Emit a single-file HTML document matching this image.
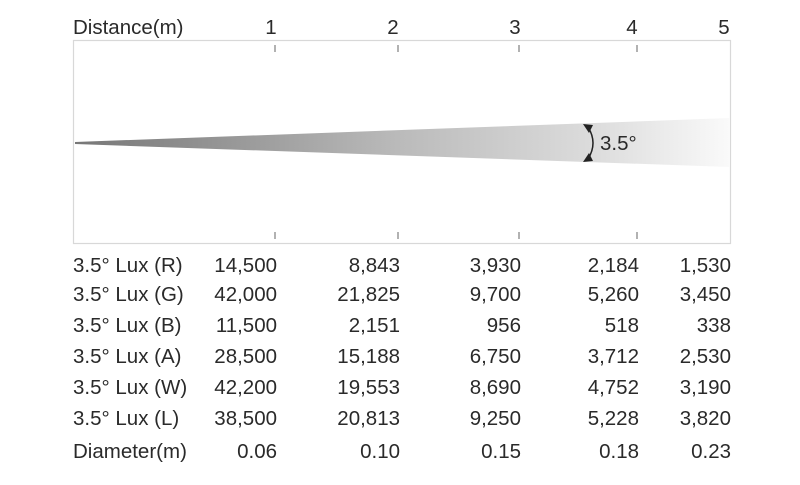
<!DOCTYPE html>
<html><head><style>
html,body{margin:0;padding:0;background:#fff;width:800px;height:485px;overflow:hidden}
svg text{font-family:"Liberation Sans",sans-serif;fill:#2a2a2a;font-size:20.5px}
</style></head><body>
<svg width="800" height="485" viewBox="0 0 800 485" xmlns="http://www.w3.org/2000/svg">
<defs>
<linearGradient id="g" x1="75" y1="0" x2="730" y2="0" gradientUnits="userSpaceOnUse">
<stop offset="0" stop-color="#777"/>
<stop offset="0.5" stop-color="#bbb"/>
<stop offset="0.8" stop-color="#ddd"/>
<stop offset="1" stop-color="#fafafa"/>
</linearGradient>
</defs>
<text x="73" y="34">Distance(m)</text>
<g text-anchor="middle">
<text x="271" y="34">1</text><text x="393" y="34">2</text><text x="515" y="34">3</text><text x="632" y="34">4</text><text x="724" y="34">5</text>
</g>
<rect x="73.5" y="40.5" width="657" height="203" fill="none" stroke="#d8d8d8" stroke-width="1.2"/>
<g stroke="#999" stroke-width="1.5">
<line x1="275" y1="45" x2="275" y2="52"/><line x1="398" y1="45" x2="398" y2="52"/><line x1="519" y1="45" x2="519" y2="52"/><line x1="637" y1="45" x2="637" y2="52"/>
<line x1="275" y1="232" x2="275" y2="239"/><line x1="398" y1="232" x2="398" y2="239"/><line x1="519" y1="232" x2="519" y2="239"/><line x1="637" y1="232" x2="637" y2="239"/>
</g>
<polygon points="75,142 730,118 730,167 75,144" fill="url(#g)"/>
<path d="M588,127 Q598,143 588,159" fill="none" stroke="#222" stroke-width="1.5"/>
<polygon points="583,124 593,125 589,133" fill="#222"/>
<polygon points="583,162 593,161 589,153" fill="#222"/>
<text x="600" y="150">3.5°</text>
<g>
<text x="73" y="272">3.5° Lux (R)</text>
<text x="73" y="301">3.5° Lux (G)</text>
<text x="73" y="332">3.5° Lux (B)</text>
<text x="73" y="363">3.5° Lux (A)</text>
<text x="73" y="394">3.5° Lux (W)</text>
<text x="73" y="425">3.5° Lux (L)</text>
<text x="73" y="458">Diameter(m)</text>
</g>
<g text-anchor="end">
<text x="277" y="272">14,500</text><text x="400" y="272">8,843</text><text x="521" y="272">3,930</text><text x="639" y="272">2,184</text><text x="731" y="272">1,530</text>
<text x="277" y="301">42,000</text><text x="400" y="301">21,825</text><text x="521" y="301">9,700</text><text x="639" y="301">5,260</text><text x="731" y="301">3,450</text>
<text x="277" y="332">11,500</text><text x="400" y="332">2,151</text><text x="521" y="332">956</text><text x="639" y="332">518</text><text x="731" y="332">338</text>
<text x="277" y="363">28,500</text><text x="400" y="363">15,188</text><text x="521" y="363">6,750</text><text x="639" y="363">3,712</text><text x="731" y="363">2,530</text>
<text x="277" y="394">42,200</text><text x="400" y="394">19,553</text><text x="521" y="394">8,690</text><text x="639" y="394">4,752</text><text x="731" y="394">3,190</text>
<text x="277" y="425">38,500</text><text x="400" y="425">20,813</text><text x="521" y="425">9,250</text><text x="639" y="425">5,228</text><text x="731" y="425">3,820</text>
<text x="277" y="458">0.06</text><text x="400" y="458">0.10</text><text x="521" y="458">0.15</text><text x="639" y="458">0.18</text><text x="731" y="458">0.23</text>
</g>
</svg>
</body></html>
